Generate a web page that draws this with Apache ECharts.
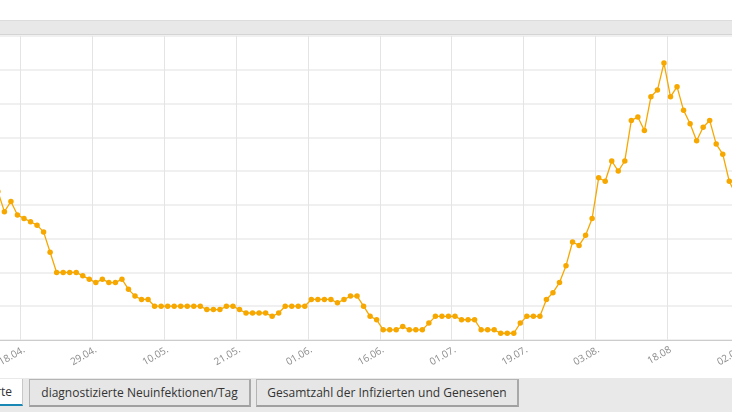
<!DOCTYPE html>
<html>
<head>
<meta charset="utf-8">
<script src="https://cdn.jsdelivr.net/npm/echarts@6/dist/echarts.min.js"></script>
<style>
  html, body { margin: 0; padding: 0; width: 732px; height: 412px; overflow: hidden; background: #fff; position: relative; }
  #chart { position: absolute; left: -50px; top: 0; width: 832px; height: 412px; }
  .topbar { position: absolute; left: 0; top: 20px; width: 732px; height: 13px; background: #e8e8e8; border-top: 1px solid #dcdcdc; border-bottom: 1px solid #d4d4d4; z-index: 2; }
  .tabbar { position: absolute; left: 0; top: 378px; width: 732px; height: 34px; background: #e9e9e9; z-index: 2; }
  .tab { position: absolute; top: 1px; height: 26px; box-sizing: border-box; font-family: "Open Sans", "Noto Sans", sans-serif; font-size: 12px; color: #333; line-height: 25px; white-space: nowrap; }
  .tab.sel { background: #fff; border-right: 1px solid #c8c8c8; border-bottom: 2px solid #1a88b5; text-align: right; padding-right: 10px; height: 27px; }
  .tab.btn { background: #e6e6e6; border: 1px solid #b4b4b4; border-bottom: 2px solid #a0a0a0; border-right: 2px solid #a8a8a8; text-align: center; height: 28px; }
</style>
</head>
<body>
<div id="chart"></div>
<div class="topbar"></div>
<div class="tabbar">
  <div class="tab sel" style="left:-160px;width:183px;">Aktuell Infizierte</div>
  <div class="tab btn" style="left:29px;width:222px;">diagnostizierte Neuinfektionen/Tag</div>
  <div class="tab btn" style="left:256px;width:263px;">Gesamtzahl der Infizierten und Genesenen</div>
</div>
<script>
const categories = [
  "14.04.","15.04.","16.04.","17.04.","18.04.","19.04.","20.04.","21.04.","22.04.","23.04.",
  "24.04.","25.04.","26.04.","27.04.","28.04.","29.04.","30.04.","01.05.","02.05.","03.05.",
  "04.05.","05.05.","06.05.","07.05.","08.05.","09.05.","10.05.","11.05.","12.05.","13.05.",
  "14.05.","15.05.","16.05.","17.05.","18.05.","19.05.","20.05.","21.05.","22.05.","23.05.",
  "24.05.","25.05.","26.05.","27.05.","28.05.","29.05.","30.05.","31.05.","01.06.",
  "02.06.","03.06.","04.06.","05.06.","08.06.","09.06.","10.06.","11.06.","12.06.","15.06.","16.06.",
  "17.06.","18.06.","19.06.","22.06.","23.06.","24.06.","25.06.","26.06.","29.06.","30.06.","01.07.",
  "02.07.","03.07.","06.07.","07.07.","08.07.","09.07.","10.07.","13.07.","14.07.","15.07.","19.07.",
  "20.07.","21.07.","22.07.","23.07.","24.07.","27.07.","28.07.","29.07.","30.07.","31.07.","03.08.",
  "04.08.","05.08.","06.08.","07.08.","10.08.","11.08.","12.08.","13.08.","14.08.","17.08.","18.08",
  "19.08.","20.08.","21.08.","24.08.","25.08.","26.08.","27.08.","28.08.","31.08.","01.09.","02.09."
];
const activeCases = [
  44,38,41,37,36,35,34,32,26,20,
  20,20,20,19,18,17,18,17,17,18,
  15,13,12,12,10,10,10,10,10,10,
  10,10,9,9,9,10,10,9,8,8,
  8,8,7,8,10,10,10,10,12,12,
  12,12,11,12,13,13,10,7,6,3,
  3,3,4,3,3,3,5,7,7,7,
  7,6,6,6,3,3,3,2,2,2,
  5,7,7,7,12,14,17,22,29,28,
  31,36,48,47,53,50,53,65,66,62,
  72,74,82,72,75,68,64,59,63,65,
  58,55,47,43
];
const yTicks = { min: 0, max: 90, step: 10 };
const firstLabelIndex = 4;
const labelEvery = 11;

const showTick = (i) => i >= firstLabelIndex && (i - firstLabelIndex) % labelEvery === 0;

const chart = echarts.init(document.getElementById('chart'), null, { renderer: 'canvas' });
chart.setOption({
  animation: false,
  grid: { left: 44.6, right: 36.4, top: 36, bottom: 72, containLabel: false },
  xAxis: {
    type: 'category',
    data: categories,
    boundaryGap: true,
    axisLine: { lineStyle: { color: '#cccccc', width: 1 } },
    axisTick: { alignWithLabel: true, interval: showTick, length: 5, lineStyle: { color: '#cccccc' } },
    axisLabel: { interval: showTick, rotate: 30, color: '#8c8c8c', fontSize: 10, fontFamily: 'Open Sans, sans-serif', margin: 9 },
    splitLine: { show: true, interval: showTick, lineStyle: { color: '#e4e4e4', width: 1 } }
  },
  yAxis: {
    type: 'value',
    min: yTicks.min, max: yTicks.max, interval: yTicks.step,
    axisLine: { show: false },
    axisTick: { show: false },
    axisLabel: { show: false },
    splitLine: { lineStyle: { color: '#ebebeb', width: 1.5 } }
  },
  series: [{
    type: 'line',
    data: activeCases,
    symbol: 'circle',
    symbolSize: 5.5,
    showSymbol: true,
    showAllSymbol: true,
    lineStyle: { color: '#f7a800', width: 1.3 },
    itemStyle: { color: '#f7a800' }
  }]
});
</script>
</body>
</html>
